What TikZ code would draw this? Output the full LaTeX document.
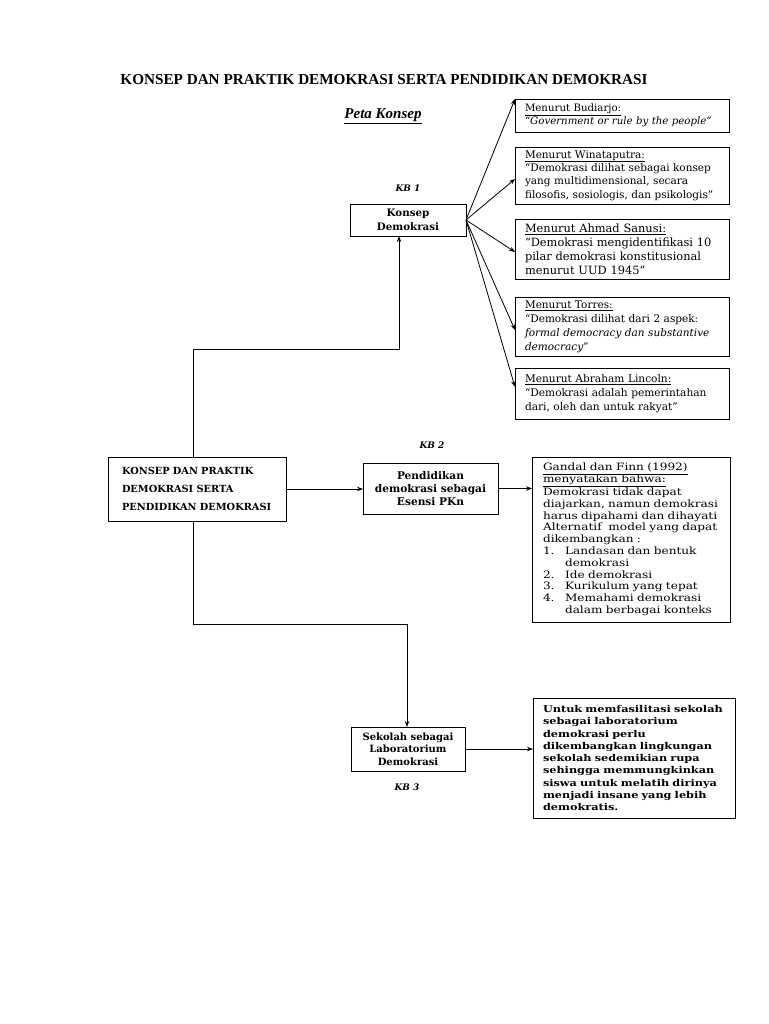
\documentclass[tikz,border=0pt]{standalone}
\usepackage{fontspec}
\setmainfont{DejaVu Serif}
\newfontfamily\titlefont{Liberation Serif}
\newfontfamily\widefont{DejaVu Serif}[FakeStretch=1.2]
\usetikzlibrary{arrows.meta,calc}
\tikzset{
  box/.style={draw, line width=0.9pt, inner ysep=0pt, outer sep=0pt, align=left},
  cbox/.style={draw, line width=0.9pt, inner sep=0pt, outer sep=0pt, align=center},
  arr/.style={line width=0.8pt, -{Stealth[length=6pt,width=4.5pt]}},
  kb/.style={font=\bfseries\itshape\fontsize{9}{10}\selectfont},
}
\newcommand{\ul}[1]{\underline{#1}}
\begin{document}
\begin{tikzpicture}[x=1pt,y=-1pt]
\useasboundingbox (0,0) rectangle (768,1024);
\node[font=\titlefont\bfseries\fontsize{15.2}{17}\selectfont] (title) at (384,80) {KONSEP DAN PRAKTIK DEMOKRASI SERTA PENDIDIKAN DEMOKRASI};
\node[font=\titlefont\bfseries\itshape\fontsize{15}{17}\selectfont] (peta) at (383,116) {\ul{Peta Konsep}};

\node[kb] (kb1) at (408,188) {KB 1};
\node[kb] (kb2) at (432,445) {KB 2};
\node[kb] (kb3) at (407,787) {KB 3};

\node[cbox, minimum width=116pt, minimum height=32pt, font=\bfseries\fontsize{10.3}{13.5}\selectfont] (konsep) at (408,220) {Konsep\\Demokrasi};

\node[box, inner xsep=10pt, text width=194pt, minimum height=33pt, font=\fontsize{10.2}{13.5}\selectfont] (bud) at (622,115.5) {\ul{Menurut Budiarjo:}\\\textit{“Government or rule by the people”}};
\node[box, inner xsep=10pt, text width=194pt, minimum height=57pt, font=\fontsize{10.5}{13.4}\selectfont] (wina) at (622,175.5) {\ul{Menurut Winataputra:}\\“Demokrasi dilihat sebagai konsep\\yang multidimensional, secara\\filosofis, sosiologis, dan psikologis”};
\node[box, inner xsep=10pt, text width=194pt, minimum height=60pt, font=\fontsize{11.4}{14}\selectfont] (san) at (622,249) {\ul{Menurut Ahmad Sanusi:}\\“Demokrasi mengidentifikasi 10\\pilar demokrasi konstitusional\\menurut UUD 1945”};
\node[box, inner xsep=10pt, text width=194pt, minimum height=59pt, font=\fontsize{10.5}{14}\selectfont] (tor) at (622,326.5) {\ul{Menurut Torres:}\\“Demokrasi dilihat dari 2 aspek:\\\textit{formal democracy dan substantive}\\\textit{democracy”}};
\node[box, inner xsep=10pt, text width=194pt, minimum height=51pt, font=\fontsize{10.6}{14}\selectfont] (lin) at (622,393.5) {\ul{Menurut Abraham Lincoln:}\\“Demokrasi adalah pemerintahan\\dari, oleh dan untuk rakyat”};

\node[box, inner xsep=14pt, text width=150pt, minimum height=64pt, font=\bfseries\fontsize{9.8}{18}\selectfont] (main) at (197,489) {KONSEP DAN PRAKTIK\\DEMOKRASI SERTA\\PENDIDIKAN DEMOKRASI};

\node[cbox, minimum width=135pt, minimum height=51pt, font=\bfseries\fontsize{10.6}{12.8}\selectfont] (pend) at (430.5,488.5) {Pendidikan\\demokrasi sebagai\\Esensi PKn};

\node[box, inner xsep=11pt, text width=176pt, minimum height=165pt, font=\widefont\fontsize{10.1}{11.8}\selectfont] (gan) at (631,539.5) {\ul{Gandal dan Finn (1992)}\\\ul{menyatakan bahwa:}\\Demokrasi tidak dapat\\diajarkan, namun demokrasi\\harus dipahami dan dihayati\\Alternatif\ \ model yang dapat\\dikembangkan :\\\makebox[22pt][l]{1.}Landasan dan bentuk\\\hspace*{22pt}demokrasi\\\makebox[22pt][l]{2.}Ide demokrasi\\\makebox[22pt][l]{3.}Kurikulum yang tepat\\\makebox[22pt][l]{4.}Memahami demokrasi\\\hspace*{22pt}dalam berbagai konteks};

\node[cbox, minimum width=114pt, minimum height=44pt, font=\bfseries\fontsize{10}{12.5}\selectfont] (sek) at (408,749) {Sekolah sebagai\\Laboratorium\\Demokrasi};

\node[box, inner xsep=10pt, text width=182pt, minimum height=120pt, font=\widefont\bfseries\fontsize{9.4}{12.25}\selectfont] (unt) at (634,758) {Untuk memfasilitasi sekolah\\sebagai laboratorium\\demokrasi perlu\\dikembangkan lingkungan\\sekolah sedemikian rupa\\sehingga memmungkinkan\\siswa untuk melatih dirinya\\menjadi insane yang lebih\\demokratis.};

% connectors
\coordinate (c1) at (193,349);
\coordinate (c2) at (399,349);
\coordinate (c3) at (193,624);
\coordinate (c4) at (407,624);
\draw[arr] (main.north -| c1) -- (c1) -- (c2) -- (konsep.south -| c2);
\draw[arr] (konsep.east) -- (bud.north west);
\draw[arr] (konsep.east) -- ([yshift=-3.5pt]wina.west);
\draw[arr] (konsep.east) -- ([yshift=-3pt]san.west);
\draw[arr] (konsep.east) -- ([yshift=-3.5pt]tor.west);
\draw[arr] (konsep.east) -- ([yshift=6.5pt]lin.west);
\draw[arr] (main.east) -- (main.east -| pend.west);
\draw[arr] (pend.east) -- (pend.east -| gan.west);
\draw[arr] (main.south -| c3) -- (c3) -- (c4) -- (sek.north -| c4);
\draw[arr] (sek.east) -- (sek.east -| unt.west);
\end{tikzpicture}
\end{document}
